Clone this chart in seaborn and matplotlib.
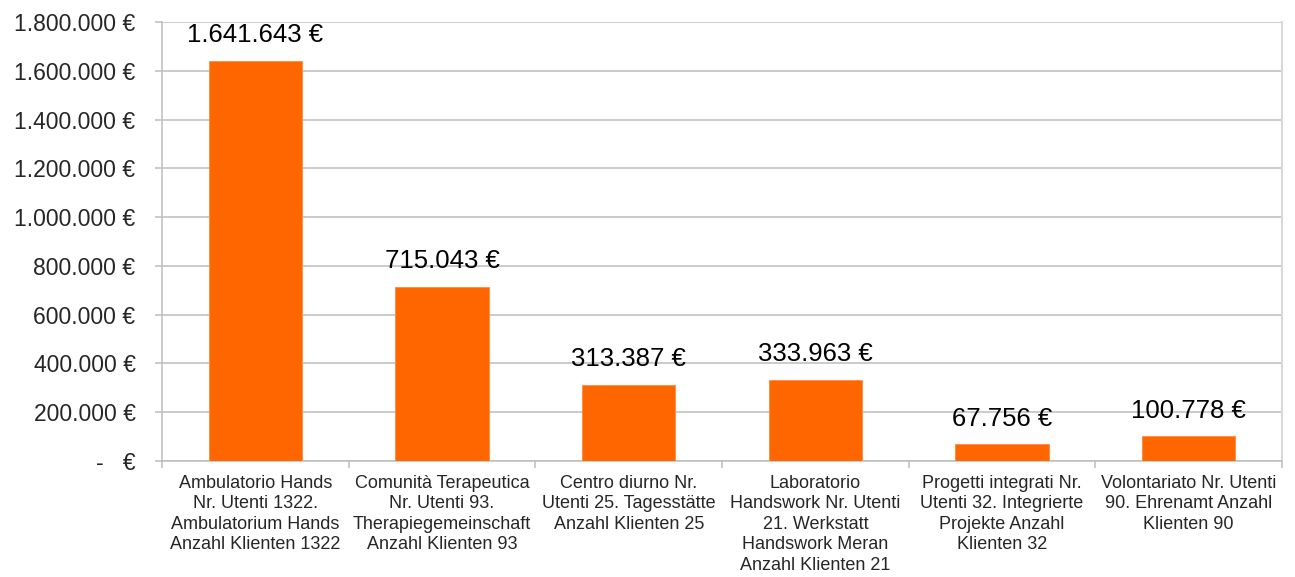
import matplotlib
matplotlib.use("Agg")
import matplotlib.pyplot as plt
import matplotlib.ticker as mticker
import seaborn as sns
import pandas as pd
import numpy as np

# Servizi / Dienste (bilingual category labels)
categories = [
    "Ambulatorio Hands\nNr. Utenti 1322.\nAmbulatorium Hands\nAnzahl Klienten 1322",
    "Comunità Terapeutica\nNr. Utenti 93.\nTherapiegemeinschaft\nAnzahl Klienten 93",
    "Centro diurno Nr.\nUtenti 25. Tagesstätte\nAnzahl Klienten 25",
    "Laboratorio\nHandswork Nr. Utenti\n21. Werkstatt\nHandswork Meran\nAnzahl Klienten 21",
    "Progetti integrati Nr.\nUtenti 32. Integrierte\nProjekte Anzahl\nKlienten 32",
    "Volontariato Nr. Utenti\n90. Ehrenamt Anzahl\nKlienten 90",
]
costs = [1641643, 715043, 313387, 333963, 67756, 100778]
y_ticks = [0, 200000, 400000, 600000, 800000, 1000000, 1200000, 1400000, 1600000, 1800000]


def euro(v):
    if v == 0:
        return "-   €"
    return f"{int(v):,}".replace(",", ".") + " €"


sns.set_theme(style="white")
plt.rcParams["font.family"] = ["Liberation Sans", "DejaVu Sans"]

df = pd.DataFrame({"cat": categories, "cost": costs})

fig = plt.figure(figsize=(12.95, 5.77), dpi=100)
ax = fig.add_axes([0.1251, 0.201, 0.8649, 0.7609])

sns.barplot(data=df, x="cat", y="cost", color="#FF6600", width=0.5,
            saturation=1, edgecolor="#FF8A3D", linewidth=0.6, ax=ax, zorder=3)

ax.set_ylim(0, 1800000)
ax.set_xlim(-0.5, len(categories) - 0.5)
ax.set_yticks(y_ticks)
ax.yaxis.set_major_formatter(mticker.FuncFormatter(lambda v, p: euro(v)))
ax.grid(axis="y", color="#BDBDBD", linewidth=1.1, zorder=0)
ax.set_xlabel("")
ax.set_ylabel("")

# category boundary ticks on x axis
ax.set_xticks(np.arange(len(categories)))
ax.set_xticklabels(categories, fontsize=13, linespacing=1.27)
ax.set_xticks(np.arange(len(categories) + 1) - 0.5, minor=True)
ax.tick_params(axis="x", which="major", length=0, pad=10)
ax.tick_params(axis="x", which="minor", length=5, color="#BDBDBD", width=1.1, bottom=True)
ax.tick_params(axis="y", which="major", length=5, color="#BDBDBD", width=1.1, left=True,
               labelsize=16.5, pad=14)

for side in ["left", "bottom"]:
    ax.spines[side].set_color("#BDBDBD")
    ax.spines[side].set_linewidth(1.1)
ax.spines["top"].set_visible(False)
ax.spines["right"].set_color("#D9D9D9")
ax.spines["right"].set_linewidth(1.5)

for i, v in enumerate(costs):
    ax.annotate(euro(v), xy=(i, v), xytext=(0, 10), textcoords="offset points",
                ha="center", va="bottom", fontsize=18.5, color="#000000")

fig.savefig("out.png", dpi=100)
